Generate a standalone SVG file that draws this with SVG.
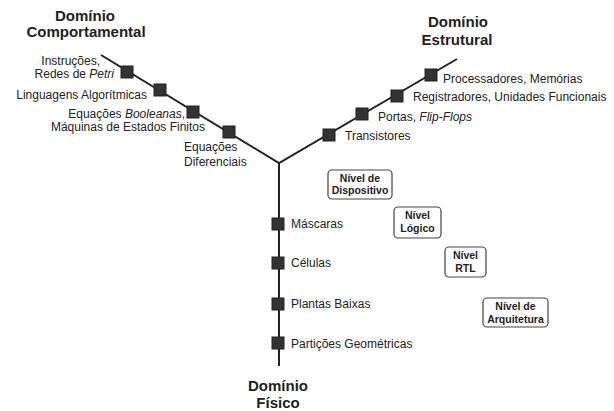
<svg xmlns="http://www.w3.org/2000/svg" width="614" height="411" viewBox="0 0 614 411">
<style>
.t{font-family:"Liberation Sans",Arial,sans-serif;font-size:12px;fill:#222}
.h{font-family:"Liberation Sans",Arial,sans-serif;font-size:15px;font-weight:bold;fill:#222;text-anchor:middle}
.b{font-family:"Liberation Sans",Arial,sans-serif;font-size:10.5px;font-weight:bold;fill:#222;text-anchor:middle}
.box{fill:#fff;stroke:#444;stroke-width:1.2}
.sq{fill:#333;stroke:#222;stroke-width:1}
.ln{stroke:#222;stroke-width:2;fill:none}
</style>
<rect width="614" height="411" fill="#fff"/>
<g id="connectors">
<path class="ln" d="M101,55 L279,163 L457,59"/>
<path class="ln" d="M279,163 L279,366"/>
</g>
<g id="titles">
<text class="h" x="85" y="21">Domínio</text>
<text class="h" x="86" y="37">Comportamental</text>
<text class="h" x="458" y="27">Domínio</text>
<text class="h" x="457" y="45">Estrutural</text>
<text class="h" x="278" y="391">Domínio</text>
<text class="h" x="278" y="408">Físico</text>
</g>
<g id="comportamental">
<rect class="sq" x="121" y="66" width="12" height="12"/>
<rect class="sq" x="154" y="84" width="12" height="12"/>
<rect class="sq" x="187" y="106" width="12" height="12"/>
<rect class="sq" x="223" y="126" width="12" height="12"/>
<text class="t" x="100" y="65" text-anchor="end">Instruções,</text>
<text class="t" x="114" y="77.5" text-anchor="end">Redes de <tspan font-style="italic">Petri</tspan></text>
<text class="t" x="147" y="99" text-anchor="end">Linguagens Algorítmicas</text>
<text class="t" x="185" y="118" text-anchor="end">Equações <tspan font-style="italic">Booleanas</tspan>,</text>
<text class="t" x="205" y="131" text-anchor="end">Máquinas de Estados Finitos</text>
<text class="t" x="184" y="151">Equações</text>
<text class="t" x="184" y="166">Diferenciais</text>
</g>
<g id="estrutural">
<rect class="sq" x="323" y="129" width="12" height="12"/>
<rect class="sq" x="356" y="108" width="12" height="12"/>
<rect class="sq" x="391" y="90" width="12" height="12"/>
<rect class="sq" x="425" y="69" width="12" height="12"/>
<text class="t" x="443" y="83">Processadores, Memórias</text>
<text class="t" x="413" y="101">Registradores, Unidades Funcionais</text>
<text class="t" x="378" y="121">Portas, <tspan font-style="italic">Flip-Flops</tspan></text>
<text class="t" x="345" y="140">Transistores</text>
</g>
<g id="fisico">
<rect class="sq" x="272" y="218" width="12" height="12"/>
<rect class="sq" x="272" y="257" width="12" height="12"/>
<rect class="sq" x="272" y="298" width="12" height="12"/>
<rect class="sq" x="272" y="337" width="12" height="12"/>
<text class="t" x="291" y="228">Máscaras</text>
<text class="t" x="291" y="267">Células</text>
<text class="t" x="291" y="308">Plantas Baixas</text>
<text class="t" x="291" y="348">Partições Geométricas</text>
</g>
<g id="nivel-dispositivo">
<rect class="box" x="328" y="170" width="64" height="29" rx="4"/>
<text class="b" x="360" y="182">Nível de</text>
<text class="b" x="360" y="194">Dispositivo</text>
</g>
<g id="nivel-logico">
<rect class="box" x="394" y="207" width="47" height="31" rx="4"/>
<text class="b" x="417.5" y="219">Nível</text>
<text class="b" x="417.5" y="232">Lógico</text>
</g>
<g id="nivel-rtl">
<rect class="box" x="445" y="247" width="41" height="30" rx="4"/>
<text class="b" x="465.5" y="259">Nível</text>
<text class="b" x="465.5" y="272">RTL</text>
</g>
<g id="nivel-arquitetura">
<rect class="box" x="483" y="298" width="65" height="29" rx="4"/>
<text class="b" x="515.5" y="310">Nível de</text>
<text class="b" x="515.5" y="323">Arquitetura</text>
</g>
</svg>
